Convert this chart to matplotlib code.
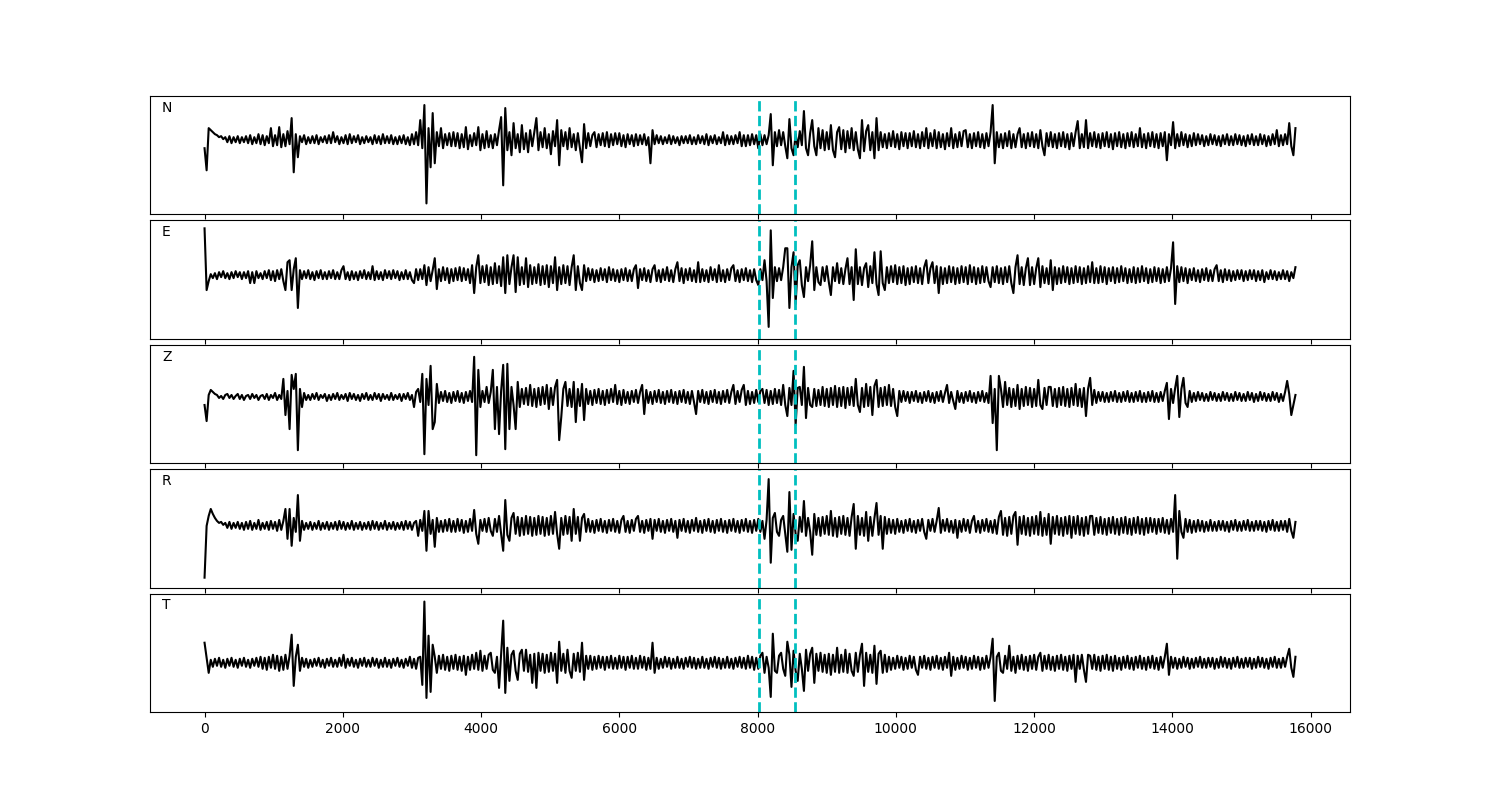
import numpy as np
import matplotlib
matplotlib.use('Agg')
import matplotlib.pyplot as plt

# traces, one value every 30 samples (arbitrary amplitude units)
dt = 30
names = ['N', 'E', 'Z', 'R', 'T']
picks = [8025, 8535]

n_tr = [-8, -30, 12, 10, 8, 6, 5, 3, 4, 1, 3, -2, 4, -3, 3, -2, 4, -3, 3, -2,
        4, -3, 5, -4, 3, -3, 6, -4, 5, -5, 4, -3, 12, -6, 5, -5, 13, -7, 6, -6,
        9, -4, 22, -32, 6, -17, 4, -2, 5, -4, 3, -3, 4, -3, 5, -4, 3, -2, 4, -3,
        5, -3, 8, -2, 4, -4, 3, -3, 5, -4, 6, -3, 4, -2, 5, -4, 3, -3, 4, -2,
        3, -4, 5, -3, 4, -4, 6, -3, 4, -3, 5, -4, 3, -4, 4, -3, 5, -4, 3, -5,
        6, -4, 8, -5, 20, -8, 35, -63, 12, -27, 27, -23, 8, -6, 12, -8, 6, -5, 7, -6,
        8, -6, 7, -8, 6, -7, 13, -9, 5, -6, 7, -5, 13, -10, 6, -8, 9, -7, 5, -8,
        6, -5, 10, 23, -45, 32, -10, 8, -15, 17, -8, 6, -12, 15, -9, 7, -12, 10, -6, 8,
        22, -10, 8, -7, 12, -8, 6, -14, 9, -6, 20, -25, 10, -6, 8, -9, 12, -7, 6, -10,
        7, -8, -22, 16, -8, 7, -6, 5, 8, -7, 6, -5, 7, -6, 8, -7, 6, -5, 7, -4,
        7, -6, 5, -7, 6, -4, 5, -6, 6, -5, 5, -4, 6, -5, 3, -23, 10, -4, 5, -3,
        4, -4, 3, -3, 5, -4, 4, -3, 3, -5, 4, -3, 4, -3, 5, -4, 3, -4, 5, -3,
        4, -4, 6, -5, 4, -3, 5, -4, 3, -3, 8, -5, 5, -4, 4, -4, 5, -3, 8, -6,
        5, -6, 5, -5, 6, -4, 5, -8, 6, -5, 5, -4, 5, 26, -25, 8, -6, 10, -5, 8,
        -6, -18, 21, -8, -15, 6, -7, 9, -5, 29, -8, -15, 7, 20, -6, -15, 12, -8, 10, -10,
        8, -9, 15, -10, -17, 8, 13, -9, 10, -12, 9, -8, 12, -10, 8, -9, -18, 20, -11, 9,
        15, -10, 8, -18, 22, -10, 8, -7, 6, -8, 7, -6, 9, -7, 6, -9, 8, -6, 7, -8,
        7, -6, 9, -7, 6, -8, 8, -6, 12, -8, 7, -6, 10, -8, 8, -7, 6, -9, 7, -6,
        12, -8, 6, -7, 8, -6, 9, 10, -7, 6, -8, 7, -6, 8, -7, 6, -8, 7, -6, 8,
        35, -23, 8, -7, 6, -8, 7, -6, 9, -8, 6, -7, 6, 12, -7, 6, -8, 7, -6, 8,
        -7, 6, -8, 10, -6, -15, 7, -6, 8, -7, 6, -8, 7, -6, 8, -7, 6, -9, 7, -6,
        8, 19, -8, 6, -7, 20, -8, 7, -6, 8, -7, 6, -8, 7, -6, 8, -7, 6, -9, 7,
        -6, 8, -7, 6, -8, 7, -6, 8, -7, 6, -6, 12, -7, 6, -8, 7, -6, 8, -7, 6,
        -8, 7, -6, 8, -20, 6, -5, 18, -8, 6, -6, 8, -5, 6, -7, 5, -6, 7, -5, 6,
        -4, 5, -6, 4, -5, 6, -4, 5, -5, 4, -6, 5, -4, 6, -5, 4, -5, 6, -4, 5,
        -5, 4, -6, 5, -4, 6, -5, 4, -5, 6, -4, 5, -6, 4, -5, 6, -4, 10, -6, 5,
        -5, 6, -4, 17, -6, -15, 12]

e_tr = [47, -15, -6, 1, -3, 2, -4, 3, -2, 4, -3, 2, -4, 3, -3, 4, -2, 3, -4, 3,
        -3, 4, -8, 3, -8, 4, -3, 2, -4, 4, -3, 5, -5, 4, -6, 5, -4, 6, -6, -15,
        13, 15, -15, 6, 17, -33, 5, -4, 4, -3, 5, -4, 3, -5, 4, -3, 5, -4, 3, -4,
        4, -3, 5, -4, 3, -4, 5, 9, -4, 3, -5, 4, -4, 3, -5, 4, -3, 5, -4, 3,
        -4, 9, -5, 4, -4, 3, -5, 5, -3, 4, -4, 5, -3, 4, -5, 3, -4, 5, -4, 3,
        -5, -8, 6, -5, 6, -4, 10, -10, 8, -6, 5, 17, -14, 6, -6, 8, -5, 7, -8, 6,
        -6, 7, -5, 8, -6, 7, -5, 6, -8, 10, -18, 8, 20, -8, 9, -7, 10, -10, 8, -9,
        12, -8, 9, -11, 18, -18, 20, -9, 8, 20, -17, 18, -10, 8, -9, 17, -12, 10, -9, 8,
        -8, 11, -10, 9, -9, 10, -12, 9, -8, 18, -15, 8, -9, 10, -8, 9, -10, 8, 20, -15,
        9, -8, -15, 10, -6, 7, -5, 6, -7, 5, -6, 7, -5, 6, -7, 8, -5, 6, -6, 5,
        -7, 6, -5, 7, -6, 5, -6, 6, 10, -13, 6, -5, 7, -6, 5, -7, 6, 10, -6, 5,
        -7, 6, -5, 8, -6, 5, -7, 6, 13, -6, 7, -8, 6, -5, 7, -6, 5, -7, 13, -7,
        6, -6, 5, -7, 8, -5, 6, -7, 10, -6, 5, -7, 6, -5, 7, 10, -6, 5, -7, 6,
        -5, 7, -6, 5, -7, 6, -5, -10, 6, -5, 15, -6, -52, 45, -23, 8, -6, 7, -5, 8,
        27, 27, -33, 8, 23, -29, 10, 15, -10, -22, 8, -6, 10, 34, -15, 8, -7, -10, 8, -6,
        9, -7, -20, 8, -6, 12, -8, 7, -9, 6, 17, -9, 8, -25, 26, -9, 8, -10, 7, 12,
        -12, 9, -8, 23, -9, -20, 24, -8, -15, 8, -8, 9, -7, 10, -9, 8, -8, 9, -10, 7,
        -9, 8, -7, 9, -8, 7, -9, 8, 15, -8, 7, 13, -8, 9, -18, 8, -9, 7, -8, 9,
        -7, 8, -9, 7, -8, 9, -7, 8, -9, 10, -7, 8, -9, 7, -8, 9, -7, 8, -6, -12,
        8, -7, 9, -8, 7, -9, 8, -7, 9, -8, -18, 8, 20, -9, 8, -10, 7, 17, -10, 8,
        -9, 7, 17, -12, 9, -8, 7, -9, 15, -15, 8, -9, 7, -8, 9, -7, 8, -9, 7, -8,
        9, -7, 8, -9, 7, -8, 9, -7, 13, -8, 7, -8, 9, -7, 8, -9, 7, -6, 8, -8,
        7, -7, 9, -6, 7, -8, 6, -7, 8, -8, 7, -7, 9, -6, 7, -8, 6, -7, 8, -6,
        7, -8, 6, -7, 8, -6, 7, 33, -29, 9, -7, 8, -6, 7, -8, 6, -5, 7, -6, 5,
        -7, 6, -5, 7, -6, 5, -6, 6, 10, -6, 5, -7, 6, -5, 5, -6, 4, -5, 5, -4,
        5, -6, 4, -5, 5, -4, 5, -6, 4, -5, 5, -7, 3, -4, 5, -4, 4, -5, 3, -4,
        5, -4, 4, -6, 3, -3, 8]

z_tr = [-8, -24, 2, 7, 5, 3, 2, -1, 1, -2, 2, 3, -1, 2, -2, 1, 3, -2, 2, -3,
        1, 2, -2, 3, -1, 2, -3, 1, 2, -2, 3, -3, 2, -1, 4, -3, 2, -2, 18, -18,
        6, -32, 22, 8, 23, -53, 8, -10, 4, -3, 2, -3, 3, -2, 4, -3, 2, -1, 3, -4,
        2, -3, 3, -2, 4, -3, 2, -2, 3, -4, 4, -2, 3, -3, 2, -4, 3, -2, 4, -3,
        2, -3, 4, -2, 3, -4, 3, -2, 2, -3, 4, -3, 2, -2, 3, -4, 3, -2, 4, -3,
        2, -10, 5, 8, -5, 23, -57, 18, -8, 31, -32, -25, 13, -6, 5, -4, 6, -5, 4, -6,
        5, -4, 6, -5, 4, -6, 5, -4, 6, -5, 40, -58, 27, -10, 6, -5, 10, -6, 5, 27,
        -32, 10, -37, 6, 32, -52, 33, -32, 10, -8, -32, 15, -10, 8, -7, 9, -8, 12, -9, 8,
        -10, 9, -8, 10, -7, 12, -12, 9, -8, 10, 17, -43, -20, 8, 15, -9, 8, -10, 15, -25,
        8, -9, 13, -23, 8, -7, 6, -8, 7, -6, 8, -7, 6, -8, 7, -6, 8, -5, 12, -7,
        6, -8, 7, -6, 5, -7, 6, -5, 7, -6, 5, 12, -17, 7, -6, 5, -7, 6, -5, 7,
        -6, 5, -7, 6, -5, 7, -6, 5, -7, 6, -5, 7, -6, 5, -7, 6, -5, -17, 6, -5,
        7, -6, 5, -7, 6, -5, 7, -6, 5, -7, 6, -5, 7, -6, 5, 12, -7, 6, -5, 7,
        12, -8, 6, -7, 5, -6, 7, -5, 6, 8, -6, 7, -8, 6, -7, 8, -6, 7, -8, 12,
        -8, -19, 9, -8, 26, -28, 9, 10, -8, 30, -21, 9, -8, -10, 8, -9, 7, -8, 10, -9,
        8, -10, 9, -8, 11, -10, 9, -9, 10, -11, 9, -8, 10, -9, 18, -8, -15, 9, -10, 13,
        -9, 10, -18, 11, 17, -10, 9, -9, 10, -8, 12, -9, 8, -10, -19, 6, -5, 6, -4, 5,
        -6, 5, -4, 6, -5, 4, -6, 5, -4, 6, -5, 4, -6, 5, -4, 6, -5, 4, 12, -6,
        5, -4, -12, 6, -5, 4, -6, 5, -4, 6, -5, 4, -6, 5, -4, 6, -5, 4, -6, 21,
        -26, 8, -53, 21, 8, -10, 15, -8, 9, -10, 8, -9, 12, -12, 8, -9, 10, -8, 9, -10,
        8, -9, 17, -8, -12, 9, -8, 10, 10, -9, 8, -10, 9, -8, 10, -9, 8, -10, 9, -8,
        13, -9, 8, -10, 9, -19, 8, 19, -8, 7, -6, 5, -4, 5, -5, 4, -5, 5, -4, 6,
        -5, 4, -5, 5, -4, 6, -5, 4, -5, 5, -4, 6, -5, 4, -5, 5, -4, 6, -5, 4,
        -5, 5, -4, 6, 14, -22, 8, -6, 9, 21, -20, 8, 19, -6, -10, 6, -5, 4, -4, 5,
        -3, 4, -4, 3, -4, 5, -3, 4, -4, 3, -4, 5, -3, 4, -4, 3, -4, 5, -3, 4,
        -4, 3, -4, 5, -3, 4, -5, 3, -4, 5, -3, 4, -4, 3, -4, 5, -3, 4, -5, 3,
        -4, 5, 16, 3, -18, -8, 2]

r_tr = [-52, 0, 10, 17, 12, 8, 5, 3, 4, 1, 3, -2, 4, -3, 3, -2, 4, -3, 3, -4,
        4, -3, 5, -4, 3, -3, 6, -4, 3, -3, 4, -4, 5, -3, 4, -5, 6, -4, 5, 17,
        -13, 17, -20, 8, -6, 31, -15, 5, -4, 3, -3, 4, -4, 3, -3, 5, -4, 3, -3, 4,
        -4, 3, -3, 4, -4, 5, -3, 4, -4, 3, -3, 5, -4, 3, -3, 4, -4, 3, -3, 4,
        -4, 5, -3, 4, -4, 3, -3, 5, -4, 3, -3, 4, -4, 3, -3, 4, -4, 5, -3, 4,
        -4, 3, 5, -10, 6, -5, 15, -25, 15, -8, 6, -21, 8, -6, 5, -6, 6, -5, 7, -6,
        5, -6, 7, -5, 6, -7, 5, -6, 7, -5, 16, -8, -18, 6, -5, 7, -6, 8, -5, -10,
        7, -6, 10, -8, -25, 26, -9, -15, 8, 13, -8, 9, -10, 8, -9, 10, -8, 9, -10, 8,
        -9, 10, -8, 9, -10, 8, -9, 10, -8, 14, -8, -23, 8, -9, 10, -8, 9, -15, 17, -8,
        9, -15, 8, 12, -6, 7, -6, 5, -7, 6, -5, 7, -6, 5, -7, 6, -5, 7, -6, 5,
        -7, 6, 10, -6, 5, -7, 6, -5, 7, 10, -6, 5, -7, 6, -5, 7, -13, 6, -5, 7,
        -6, 5, -7, 6, -5, 7, -6, 5, -12, 6, -5, 7, -6, 5, -7, 6, -5, 8, -6, 5,
        -7, 6, -5, 7, -6, 5, -7, 6, -5, 7, -6, 5, -7, 6, -5, 7, -6, 5, -7, 6,
        -5, 7, -6, 5, -7, 6, -5, 7, -6, 5, -13, 6, 47, -37, 8, 13, -6, -10, 6, 10,
        -8, -26, 34, -24, 12, -8, -15, 9, -6, 25, -10, 8, -6, -29, 12, -9, 8, -10, 9, -8,
        10, -9, 15, -10, 8, -11, 9, -8, 10, -9, 8, -10, 9, 22, -23, 10, -9, 8, -10, 14,
        -15, 9, -10, 8, 23, -9, 10, -23, 9, -8, 7, -7, 6, -8, 7, -6, 5, -7, 6, -5,
        7, -6, 5, -7, 6, -5, 7, -6, -13, 6, -5, 7, -6, 5, 18, -7, 6, -5, 7, -6,
        5, -7, 6, -12, 5, -6, 7, -5, 6, -7, 5, 10, -6, 5, -7, 6, -5, 7, -6, 5,
        -7, 6, -8, 9, 15, -9, 8, -10, 9, -8, 10, 14, -19, 9, -8, 10, -9, 8, -10, 9,
        -8, 10, -9, 14, -10, 8, -9, 12, -18, 9, -8, 10, -9, 8, -10, 9, -8, 10, -12, 9,
        -8, 10, -9, 8, -10, 9, -8, 10, 10, -9, 8, -7, 9, -8, 7, -9, 8, -7, 9, -8,
        7, -9, 8, -7, 9, -8, 7, -9, 8, -7, 9, -8, 7, -9, 8, -7, 8, -6, 7, -8,
        7, -6, 8, -7, 6, -8, 7, -6, 31, -33, 15, -6, -12, 7, -6, 6, -7, 5, -6, 6,
        -5, 5, -6, 4, -5, 6, -5, 4, -5, 5, -4, 5, -5, 4, -6, 5, -4, 6, -5, 4,
        -5, 5, -4, 6, -5, 4, -5, 5, -4, 5, -5, 4, -6, 5, -4, 6, -5, 4, -5, 5,
        -4, 5, -6, 7, -5, -12, 4]

t_tr = [20, 5, -10, 3, -4, 4, -3, 5, -4, 3, -5, 4, -3, 5, -4, 3, -5, 4, -3, 5,
        -4, 3, -5, 4, -3, 5, -4, 6, -6, 5, -7, 6, -5, 8, -6, 7, -8, 6, -7, 8,
        -6, 7, 28, -23, 6, 18, -8, 5, -4, 4, -5, 3, -4, 4, -3, 5, -4, 3, -5, 4,
        -3, 5, -4, 3, -4, 5, -3, 8, -5, 4, -3, 5, -4, 3, -5, 4, -3, 5, -4, 3,
        -4, 5, -3, 4, -5, 3, -4, 5, -4, 3, -5, 4, -3, 5, -4, 3, -5, 4, -3, 6,
        -5, 4, -6, 5, 6, -22, 61, -35, 27, -29, 18, 6, -10, 7, -6, 8, -7, 6, -8, 7,
        -6, 8, -7, 6, -8, 7, -12, 6, -7, 8, -6, 10, -7, 12, -8, 7, -6, 8, 10, -7,
        -10, 6, -25, 8, 42, -30, 15, -18, 8, 12, -8, -17, 9, 13, -8, 13, -9, 8, -20, 9,
        -25, 10, -8, 9, -10, 8, -9, 10, -8, 9, -20, 21, -8, 9, -10, 13, -8, -15, 9, -8,
        10, -9, 20, -17, 7, -6, 7, -7, 6, -6, 7, -5, 6, -7, 6, -5, 7, -6, 5, -6,
        7, -5, 6, -7, 6, -5, 7, -6, 5, -6, 7, -5, 6, -7, 5, -6, 20, -10, 5, -6,
        4, -5, 6, -4, 5, -6, 4, -5, 6, -5, 4, -6, 5, -4, 6, -5, 5, -6, 4, -5,
        6, -5, 4, -6, 5, -4, 6, -5, 5, -6, 4, -5, 6, -5, 4, -6, 5, -4, 6, -5,
        5, -6, 7, -5, 6, -7, 5, -6, 7, 10, -10, 6, -5, -34, 29, -8, -10, 7, 10, -6,
        -13, 21, 8, -24, 12, -8, -18, 9, -6, -28, 13, -8, 9, 15, -20, 9, -8, 10, -9, 8,
        -10, 9, -12, 8, -9, 15, -10, 8, -9, 13, -10, 9, -8, -13, 10, -9, 8, 19, -23, 10,
        -9, 8, -10, 17, -21, 9, 12, -10, 8, -9, 6, -7, 5, -6, 7, -5, 6, -7, 5, -6,
        7, -5, 6, -7, -12, 6, -5, 7, -6, 5, -7, 6, -5, 7, -6, 5, -7, 6, -5, 10,
        -13, 6, -7, 5, -6, 7, -5, 6, -7, 5, -6, 7, -5, 6, -7, 5, -6, 7, -5, 6,
        24, -38, 6, 10, -8, -10, 7, -6, 17, -8, 6, -10, 7, -6, 8, -7, 6, -8, 7, -6,
        8, -7, 6, 10, -8, 7, -6, 8, -7, 6, -8, 7, -6, 8, -7, 6, -8, 7, -6, 8,
        -19, 7, -6, 8, -7, -19, 8, 7, -6, 8, -7, 6, -8, 7, -6, 8, -7, 6, -8, 7,
        -6, 5, -7, 6, -5, 7, -6, 5, -7, 6, -5, 7, -6, 5, -7, 6, -5, 7, -6, 5,
        -7, 6, -5, 6, 19, -12, 6, -5, 5, -6, 4, -5, 6, -4, 5, -6, 4, -5, 5, -4,
        6, -5, 4, -5, 5, -4, 5, -6, 4, -5, 6, -4, 5, -5, 4, -6, 5, -4, 6, -5,
        4, -5, 5, -4, 5, -6, 4, -5, 6, -4, 5, -5, 4, -6, 5, -4, 6, -5, 4, -5,
        5, -4, 6, 14, -5, -14, 6]

traces = [n_tr, e_tr, z_tr, r_tr, t_tr]
ylims = [(-74, 44), (-64, 55), (-66, 52), (-62, 57), (-49, 69)]

fig, axes = plt.subplots(5, 1, sharex=True, figsize=(15, 8))
plt.subplots_adjust(left=0.1, hspace=0.05)

for ax, name, tr, yl in zip(axes, names, traces, ylims):
    t = np.arange(len(tr)) * dt
    ax.plot(t, tr, 'k', lw=1.5)
    for p in picks:
        ax.axvline(p, color='c', ls='--', lw=2)
    ax.set_ylim(yl)
    ax.set_yticks([])
    ax.text(0.01, 0.9, name, transform=ax.transAxes, va='center')

plt.savefig('out.png', dpi=100)
